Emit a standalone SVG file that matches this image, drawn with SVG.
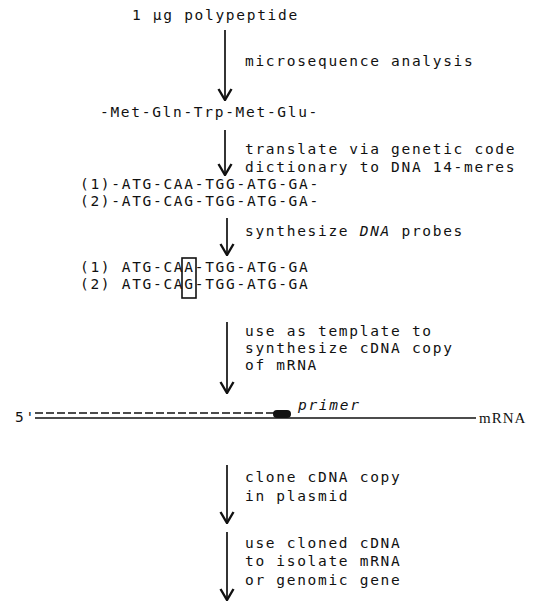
<svg xmlns="http://www.w3.org/2000/svg" width="547" height="610" viewBox="0 0 547 610">
  <style>
    .t { font-family: "DejaVu Sans Mono", "Liberation Mono", monospace; font-size: 14.5px; letter-spacing: 1.7px; fill: #111; }
    .it { font-style: italic; }
    .small { font-family: "Liberation Serif", serif; font-size: 15px; letter-spacing: 1px; }
    .arrow { stroke: #111; stroke-width: 1.7; fill: none; marker-end: url(#vee); }
    .strand { stroke: #111; stroke-width: 1.5; fill: none; }
  </style>
  <defs>
    <marker id="vee" markerUnits="userSpaceOnUse" viewBox="-1 -8 13 16" refX="11" refY="0" markerWidth="13" markerHeight="16" orient="auto">
      <path d="M0,-6.5 L11,0 L0,6.5" stroke="#111" stroke-width="2.4" fill="none"/>
    </marker>
  </defs>
  <rect width="547" height="610" fill="#fff"/>

  <!-- connectors -->
  <g id="connectors">
    <path class="arrow" d="M225,30 V100"/>
    <path class="arrow" d="M225,130 V175"/>
    <path class="arrow" d="M227,218 V255"/>
    <path class="arrow" d="M227,322 V393"/>
    <path class="arrow" d="M227,465 V523"/>
    <path class="arrow" d="M227,532 V600"/>
  </g>

  <!-- steps -->
  <g id="polypeptide">
    <text class="t" x="132" y="20">1 μg polypeptide</text>
  </g>
  <g id="step-microsequence">
    <text class="t" x="245" y="66">microsequence analysis</text>
  </g>
  <g id="peptide">
    <text class="t" x="100" y="117">-Met-Gln-Trp-Met-Glu-</text>
  </g>
  <g id="step-translate">
    <text class="t" x="245" y="154">translate via genetic code</text>
    <text class="t" x="245" y="172">dictionary to DNA 14-meres</text>
  </g>
  <g id="codons">
    <text class="t" x="80" y="189">(1)-ATG-CAA-TGG-ATG-GA-</text>
    <text class="t" x="80" y="206">(2)-ATG-CAG-TGG-ATG-GA-</text>
  </g>
  <g id="step-synthesize">
    <text class="t" x="245" y="236">synthesize <tspan class="it">DNA</tspan> probes</text>
  </g>
  <g id="probes">
    <text class="t" x="80" y="272">(1) ATG-CAA-TGG-ATG-GA</text>
    <text class="t" x="80" y="289">(2) ATG-CAG-TGG-ATG-GA</text>
    <rect x="182" y="258" width="14" height="40" fill="none" stroke="#111" stroke-width="1.6"/>
  </g>
  <g id="step-template">
    <text class="t" x="245" y="336">use as template to</text>
    <text class="t" x="245" y="353">synthesize cDNA copy</text>
    <text class="t" x="245" y="370">of mRNA</text>
  </g>
  <g id="mrna">
    <text class="t" x="15" y="422">5'</text>
    <line class="strand" x1="35" y1="413" x2="274" y2="413" stroke-dasharray="8 3"/>
    <line class="strand" x1="35" y1="418" x2="476" y2="418"/>
    <rect x="273" y="410" width="18" height="8" rx="4" fill="#111"/>
    <text class="t it" x="298" y="410">primer</text>
    <text class="t small" x="479" y="423">mRNA</text>
  </g>
  <g id="step-clone">
    <text class="t" x="245" y="482">clone cDNA copy</text>
    <text class="t" x="245" y="501">in plasmid</text>
  </g>
  <g id="step-isolate">
    <text class="t" x="245" y="548">use cloned cDNA</text>
    <text class="t" x="245" y="566">to isolate mRNA</text>
    <text class="t" x="245" y="585">or genomic gene</text>
  </g>
</svg>
